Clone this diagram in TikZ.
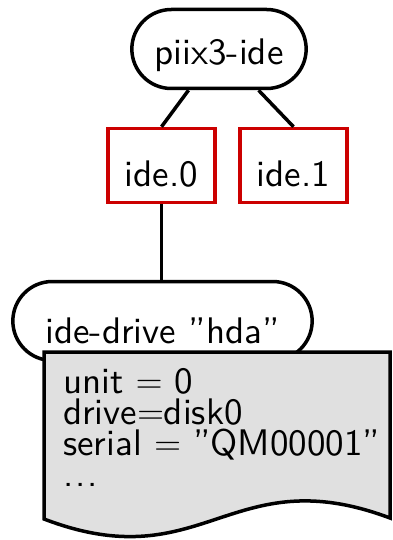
\RequirePackage{fix-cm}
\documentclass[tikz,border=0pt]{standalone}
\usepackage{fontspec}
\setsansfont{lmsans10-regular.otf}
\usetikzlibrary{shapes.misc}
\definecolor{boxred}{RGB}{204,0,0}
\definecolor{notegray}{RGB}{224,224,224}
\newcommand{\moredots}{.\kern0.05em.\kern0.05em.}
\tikzset{
  every node/.style={font=\fontsize{37}{31}\selectfont\sffamily},
  stadium/.style={rounded rectangle, draw=black, line width=3.5pt, fill=white},
  portbox/.style={rectangle, draw=boxred, line width=3.5pt, fill=white,
    minimum width=107pt, minimum height=74pt, text height=42pt, text depth=1pt},
  conn/.style={draw=black, line width=3.5pt},
  notebox/.style={draw=black, line width=3.5pt, fill=notegray, line join=miter}
}
\begin{document}
\begin{tikzpicture}[x=1pt, y=-1pt]
  \useasboundingbox (0,0) rectangle (392,540);

  % controller and its two channels
  \node[stadium, minimum width=181pt, minimum height=79pt,
        text height=34pt, text depth=2pt] (piix) at (219,49) {piix3-ide};
  \node[portbox] (ide0) at (161.5,165.5) {ide.0};
  \node[portbox] (ide1) at (293.5,165.5) {ide.1};

  \draw[conn] (piix) -- (ide0.north);
  \draw[conn] (piix) -- (ide1.north);

  % drive attached to channel 0
  \node[stadium, minimum width=306pt, minimum height=79pt,
        text height=45pt, text depth=1pt] (drive) at (162.5,321) {ide-drive ''hda''};
  \draw[conn] (ide0.south) -- (ide0.south |- drive.north);

  % property sheet of the drive
  \path[notebox] (44,352) -- (390,352) -- (390,518)
     .. controls (230,458) and (204,580) .. (44,519) -- cycle;
  \node[anchor=base west, inner sep=0pt] (props) at (63,393)
    {\vtop{\baselineskip=31pt \lineskiplimit=-100pt \lineskip=0pt
      \hbox{unit $=$ 0}
      \hbox{drive$=$disk0}
      \hbox{serial $=$ ''QM00001''}
      \hbox{\moredots}}};
\end{tikzpicture}
\end{document}
